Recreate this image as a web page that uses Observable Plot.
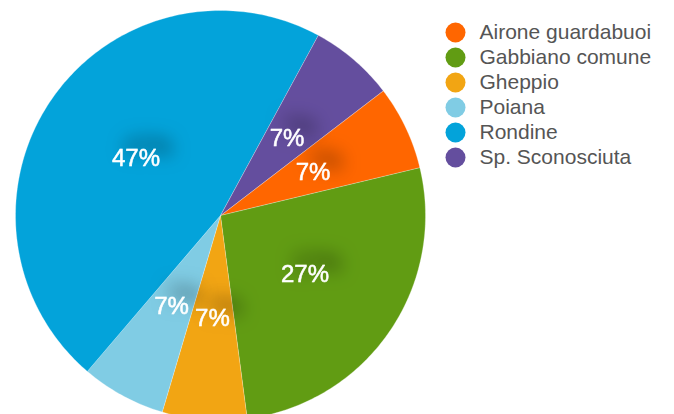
<!DOCTYPE html>
<html>
<head>
<meta charset="utf-8">
<script src="https://cdn.jsdelivr.net/npm/d3@7"></script>
<script src="https://cdn.jsdelivr.net/npm/@observablehq/plot@0.6"></script>
<style>
  html, body { margin: 0; padding: 0; background: #fff; }
  #wrap { position: relative; width: 674px; height: 414px; overflow: hidden; font-family: "Liberation Sans", Helvetica, Arial, sans-serif; }
  #pie { position: absolute; left: 0; top: 0; }
  #legend { position: absolute; left: 430px; top: 0; }
</style>
</head>
<body>
<div id="wrap"><div id="pie"></div><div id="legend"></div></div>
<script>
// ---- data ----
const species = ["Airone guardabuoi", "Gabbiano comune", "Gheppio", "Poiana", "Rondine", "Sp. Sconosciuta"];
const counts = [1, 4, 1, 1, 7, 1];
const colors = ["#FF6600", "#619C13", "#F2A513", "#80CCE4", "#03A3DA", "#644E9E"];
const startDeg = 52.5;

const total = d3.sum(counts);
const rows = species.map((s, i) => ({name: s, value: counts[i]}));
const arcs = d3.pie().sort(null).value(d => d.value)
  .startAngle(startDeg * Math.PI / 180)
  .endAngle(startDeg * Math.PI / 180 + 2 * Math.PI)(rows);

// polygon outline for each slice, in unit-circle coordinates
const outline = [];
for (const a of arcs) {
  outline.push({name: a.data.name, x: 0, y: 0});
  const n = Math.max(2, Math.ceil((a.endAngle - a.startAngle) / (2 * Math.PI) * 360));
  for (let k = 0; k <= n; k++) {
    const t = a.startAngle + (a.endAngle - a.startAngle) * k / n;
    outline.push({name: a.data.name, x: Math.sin(t), y: Math.cos(t)});
  }
}
const labels = arcs.map(a => {
  const m = (a.startAngle + a.endAngle) / 2;
  return {name: a.data.name, x: 0.5 * Math.sin(m), y: 0.5 * Math.cos(m),
          text: Math.round(a.data.value / total * 100) + "%"};
});

const colorScale = {domain: species, range: colors};

const pie = Plot.plot({
  width: 440, height: 414,
  margin: 0,
  x: {domain: [-220 / 205, 220 / 205], axis: null},
  y: {domain: [-199 / 205, 215 / 205], axis: null},
  color: colorScale,
  marks: [
    Plot.line(outline, {x: "x", y: "y", z: "name", fill: "name", stroke: "#ffffff", strokeWidth: 0.4, strokeOpacity: 0.7, curve: "linear-closed"}),
    Plot.text(labels, {x: "x", y: "y", dy: 1, text: "text", fill: "white", stroke: "white", strokeWidth: 0.5, fontSize: 24, fontFamily: "Liberation Sans, Helvetica, Arial, sans-serif"})
  ]
});
pie.style.overflow = "visible";
const ns = "http://www.w3.org/2000/svg";
const defs = document.createElementNS(ns, "defs");
defs.innerHTML = '<filter id="glow" x="-150%" y="-150%" width="400%" height="400%">' +
  '<feGaussianBlur in="SourceAlpha" stdDeviation="9" result="b"/>' +
  '<feOffset in="b" dx="12" dy="-11" result="o"/>' +
  '<feFlood flood-color="#000" flood-opacity="0.6"/>' +
  '<feComposite operator="in" in2="o" result="s"/>' +
  '<feMerge><feMergeNode in="s"/><feMergeNode in="SourceGraphic"/></feMerge></filter>';
pie.insertBefore(defs, pie.firstChild);
pie.querySelectorAll('g[aria-label="text"] text').forEach(t => t.setAttribute("filter", "url(#glow)"));
document.getElementById("pie").appendChild(pie);

const legend = Plot.plot({
  width: 244, height: 190,
  marginTop: 30, marginBottom: 31, marginLeft: 0, marginRight: 0,
  y: {type: "point", domain: species, padding: 0, axis: null},
  color: colorScale,
  marks: [
    Plot.dot(species, {y: d => d, fill: d => d, r: 10, frameAnchor: "left", dx: 25}),
    Plot.text(species, {y: d => d, text: d => d, frameAnchor: "left", dx: 49, textAnchor: "start", fill: "#555555", fontSize: 21, fontFamily: "Liberation Sans, Helvetica, Arial, sans-serif"})
  ]
});
document.getElementById("legend").appendChild(legend);
</script>
</body>
</html>
